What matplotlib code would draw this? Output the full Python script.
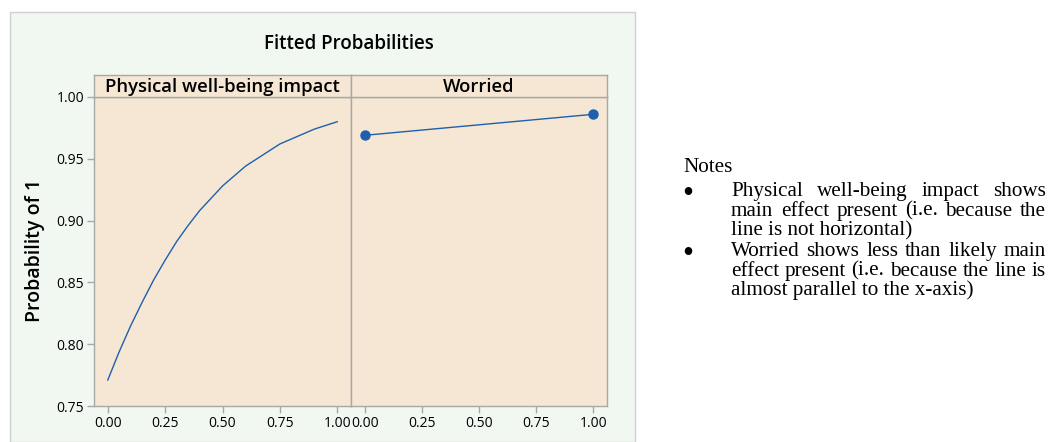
import matplotlib.pyplot as plt
from matplotlib.patches import Rectangle

# fitted probabilities
impact_x = [0.00, 0.05, 0.10, 0.15, 0.20, 0.25, 0.30, 0.35, 0.40, 0.45, 0.50,
            0.55, 0.60, 0.65, 0.70, 0.75, 0.80, 0.85, 0.90, 0.95, 1.00]
impact_p = [0.771, 0.794, 0.815, 0.834, 0.852, 0.868, 0.883, 0.896, 0.908, 0.918, 0.928,
            0.936, 0.944, 0.950, 0.956, 0.962, 0.966, 0.970, 0.974, 0.977, 0.980]
worried_x = [0.0, 1.0]
worried_p = [0.969, 0.986]

x_ticks = [0.00, 0.25, 0.50, 0.75, 1.00]
y_ticks = [0.75, 0.80, 0.85, 0.90, 0.95, 1.00]
panel_titles = ["Physical well-being impact", "Worried"]
title = "Fitted Probabilities"
ylabel = "Probability of 1"
notes_head = "Notes"
notes = [
    ["Physical well-being impact shows", "main effect present (i.e. because the", "line is not horizontal)"],
    ["Worried shows less than likely main", "effect present (i.e. because the line is", "almost parallel to the x-axis)"],
]

W, H = 1050, 442
green = "#f1f7f1"
beige = "#f5e7d3"
gray = "#a8a8a8"
blue = "#1f5fae"
sans = ["Open Sans", "DejaVu Sans"]

def fx(px):
    return px / W

def fy(py):
    return 1 - py / H

fig = plt.figure(figsize=(W / 100, H / 100), dpi=100)
bg = Rectangle((fx(10), 0), fx(635) - fx(10), fy(12), transform=fig.transFigure,
               facecolor=green, edgecolor="#d0d0d0", lw=1, zorder=-10)
fig.patches.append(bg)

fig.text(fx(349), fy(44), title, ha="center", va="center", fontsize=13.5,
         family=sans, weight="semibold")
fig.text(fx(35), fy(250), ylabel, ha="center", va="center", rotation=90, fontsize=14,
         family=sans, weight="semibold")

lefts = [94, 351]
rights = [351, 607]
axes = []
for i in range(2):
    ax = fig.add_axes([fx(lefts[i]), fy(406), fx(rights[i]) - fx(lefts[i]), fy(97) - fy(406)],
                      sharey=axes[0] if axes else None)
    ax.set_facecolor(beige)
    ax.set_xlim(-0.06, 1.06)
    ax.set_ylim(0.75, 1.0)
    ax.set_xticks(x_ticks)
    ax.set_xticklabels(["%.2f" % v for v in x_ticks], family=sans, fontsize=10)
    ax.set_yticks(y_ticks)
    for s in ax.spines.values():
        s.set_color(gray)
        s.set_linewidth(1)
    ax.tick_params(colors=gray, labelcolor="black", length=5, width=1, pad=2)
    if i == 0:
        ax.set_yticklabels(["%.2f" % v for v in y_ticks], family=sans, fontsize=10)
    else:
        ax.tick_params(axis="y", left=False, labelleft=False)
    # strip above the panel
    st = fig.add_axes([fx(lefts[i]), fy(97), fx(rights[i]) - fx(lefts[i]), fy(75) - fy(97)])
    st.set_facecolor(beige)
    st.set_xticks([])
    st.set_yticks([])
    for s in st.spines.values():
        s.set_color(gray)
        s.set_linewidth(1)
    st.text(0.5, 0.45, panel_titles[i], ha="center", va="center", transform=st.transAxes,
            fontsize=13.3, family=sans, weight="semibold")
    axes.append(ax)

axes[0].plot(impact_x, impact_p, color=blue, lw=1)
axes[1].plot(worried_x, worried_p, color=blue, lw=1, marker="o", markersize=6.5)

# notes on the right, Times-like, justified lines
serif = "Liberation Serif"
renderer = fig.canvas.get_renderer()
probe = fig.text(0, 0, notes[0][2], fontsize=10, family=serif)
w10 = probe.get_window_extent(renderer).width
probe.remove()
fs = 10 * 182 / w10

x0, x1 = 731, 1046
fig.text(fx(683), fy(172), notes_head, fontsize=fs, family=serif, va="baseline")
base = 196
step = 19.5
row = 0
for para in notes:
    fig.text(fx(688), fy(base + row * step - 5), "\u2022", fontsize=fs * 1.5, family=serif,
             va="center_baseline", ha="center")
    for j, line in enumerate(para):
        y = fy(base + row * step)
        if j < len(para) - 1:
            words = line.split()
            widths = []
            for wd in words:
                t = fig.text(0, 0, wd, fontsize=fs, family=serif)
                widths.append(t.get_window_extent(renderer).width)
                t.remove()
            gap = (x1 - x0 - sum(widths)) / (len(words) - 1)
            xx = x0
            for wd, ww in zip(words, widths):
                fig.text(fx(xx), y, wd, fontsize=fs, family=serif, va="baseline")
                xx += ww + gap
        else:
            fig.text(fx(x0), y, line, fontsize=fs, family=serif, va="baseline")
        row += 1
    row += 0.1

fig.savefig("out.png", dpi=100)
